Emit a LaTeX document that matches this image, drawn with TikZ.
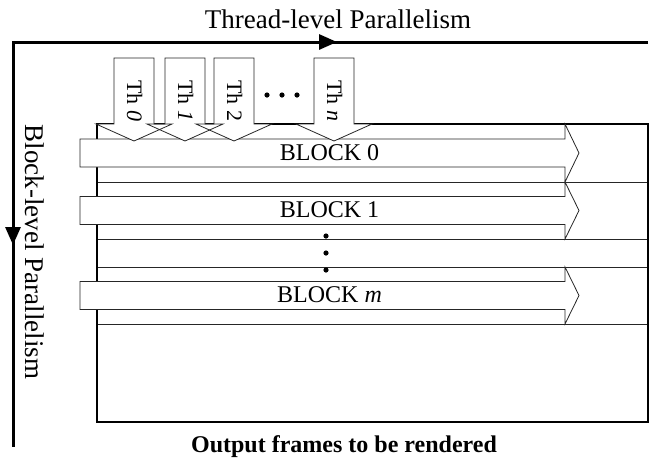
\documentclass[tikz,border=0pt]{standalone}
\usepackage{fontspec}
\setmainfont{Liberation Serif}
\usetikzlibrary{arrows.meta,decorations.markings}
\begin{document}
\begin{tikzpicture}[x=1pt,y=-1pt,
  axis/.style={line width=3pt},
  frameline/.style={line width=2.8pt},
  thinline/.style={line width=0.8pt, draw=black!85},
  blockarrow/.style={thinline, fill=white},
  axislabel/.style={font=\fontsize{27}{30}\selectfont, inner sep=0pt},
  blocklabel/.style={font=\fontsize{24}{26}\selectfont, inner sep=0pt},
  thlabel/.style={font=\fontsize{22}{24}\selectfont, inner sep=0pt, rotate=-90},
  dot/.style={fill=black},
  axistip/.style={Triangle[length=18pt,width=15pt]},
]
\useasboundingbox (0,0) rectangle (659,459);
% axes
\coordinate (origin) at (13,42);
\coordinate (tend) at (648,42);
\coordinate (bend) at (13,447);
\draw[axis] (tend) -- (origin) -- (bend);
\draw[axis, postaction=decorate, decoration={markings, mark=at position 324pt with {\arrow{Triangle[length=18pt,width=15pt]}}}] (origin) -- (tend);
\draw[axis, postaction=decorate, decoration={markings, mark=at position 203pt with {\arrow{Triangle[length=18pt,width=15pt]}}}] (origin) -- (bend);
\node[axislabel, anchor=base] (ttitle) at (338,28) {Thread-level Parallelism};
\node[axislabel, anchor=base, rotate=-90] (btitle) at (25,252) {Block-level Parallelism};
% rows
\foreach \t/\b in {124/182, 182/239, 239/267, 267/324}
  \draw[thinline] (97,\t) rectangle (648,\b);
% frame
\draw[frameline] (97,124) rectangle (648,422);
% block arrows
\foreach \t/\b/\lab/\nm in {124/182/{BLOCK 0}/b0, 182/239/{BLOCK 1}/b1, 267/324/{BLOCK \textit{m}}/bm} {
  \pgfmathsetmacro\c{(\t+\b)/2}
  \draw[blockarrow] (80,\c-14) -- (565,\c-14) -- (565,\t) -- (579,\c) -- (565,\b) -- (565,\c+14) -- (80,\c+14) -- cycle;
  \node[blocklabel, anchor=base] (\nm) at (329.5,\c+7) {\lab};
}
\foreach \y in {236,253,270}
  \fill[dot] (326,\y) circle (2.6pt);
% thread arrows
\foreach \cx in {134,185,234,334}
  \fill[white] ({\cx-20},58) -- ({\cx+20},58) -- ({\cx+20},124) -- ({\cx+38},124) -- (\cx,141) -- ({\cx-38},124) -- ({\cx-20},124) -- cycle;
\foreach \cx in {134,185,234,334}
  \draw[thinline] ({\cx-20},58) -- ({\cx+20},58) -- ({\cx+20},124) -- ({\cx+38},124) -- (\cx,141) -- ({\cx-38},124) -- ({\cx-20},124) -- cycle;
\foreach \cx/\lab/\nm in {134/{Th \textit{0}}/t0, 185/{Th \textit{1}}/t1, 234/{Th 2}/t2, 334/{Th \textit{n}}/tn}
  \node[thlabel, anchor=base] (\nm) at (\cx-7,101) {\lab};
\foreach \x in {267,282,297}
  \fill[dot] (\x,95) circle (2.6pt);
% caption
\node[font=\bfseries\fontsize{24}{26}\selectfont, anchor=base, inner sep=0pt] (cap) at (344,452) {Output frames to be rendered};
\end{tikzpicture}
\end{document}
